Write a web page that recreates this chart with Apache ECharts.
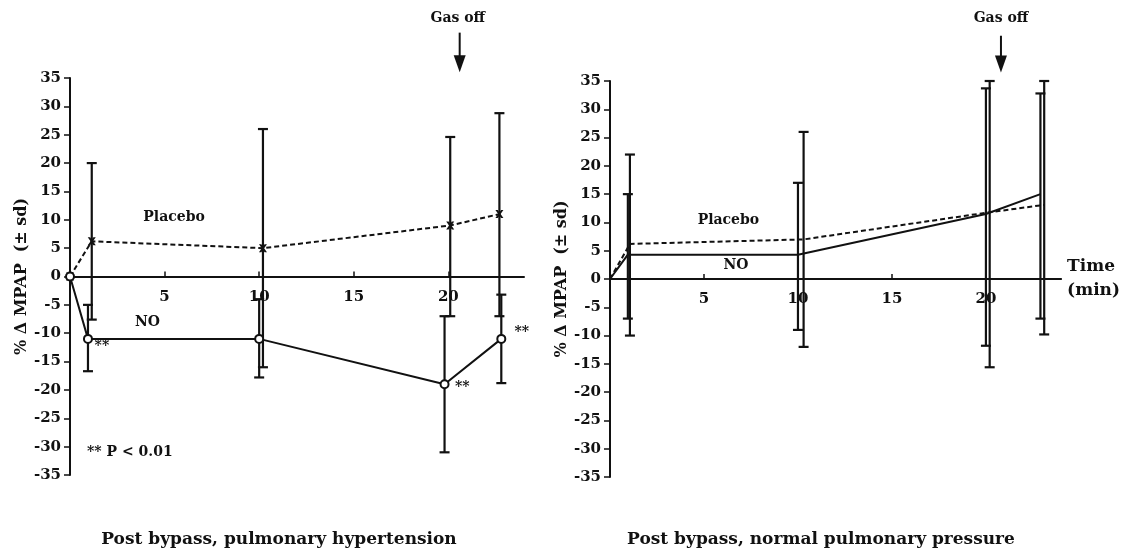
<!DOCTYPE html>
<html>
<head>
<meta charset="utf-8">
<script src="https://cdn.jsdelivr.net/npm/echarts@6/dist/echarts.min.js"></script>
<style>
html,body{margin:0;padding:0;background:#fff;}
#c{width:1123px;height:554px;}
</style>
</head>
<body>
<div id="c"></div>
<script>
// ---------- Data ----------
// Left panel: post bypass, pulmonary hypertension
var leftPlaceboTime = [0, 1.15, 10.2, 20.1, 22.7];
var leftPlaceboVal  = [0, 6.2, 5, 9, 11];
var leftPlaceboLow  = [null, -7.6, -16, -7, -7];
var leftPlaceboHigh = [null, 20, 26, 24.6, 28.8];

var leftNoTime = [0, 0.95, 10.0, 19.8, 22.8];
var leftNoVal  = [0, -11, -11, -19, -11];
var leftNoLow  = [null, -16.7, -17.8, -31, -18.8];
var leftNoHigh = [null, -5, -4, -7, -3.2];

// Right panel: post bypass, normal pulmonary pressure
var rightPlaceboTime = [0, 1.06, 10.3, 20.2, 23.1];
var rightPlaceboVal  = [0, 6.2, 7, 11.8, 13.1];
var rightPlaceboLow  = [null, -10, -12, -15.6, -9.8];
var rightPlaceboHigh = [null, 22, 26, 35, 35];

var rightNoTime = [0, 0.95, 10.0, 20.0, 22.9];
var rightNoVal  = [0, 4.3, 4.3, 11.5, 15];
var rightNoLow  = [null, -7, -9, -11.8, -7];
var rightNoHigh = [null, 15, 17, 33.7, 32.8];

var yTicks = [-35, -30, -25, -20, -15, -10, -5, 0, 5, 10, 15, 20, 25, 30, 35];
var xTicks = [5, 10, 15, 20];

var panelTitles = ['Post bypass, pulmonary hypertension', 'Post bypass, normal pulmonary pressure'];
var yName = '% \u0394 MPAP  (\u00b1 sd)';

// annotations: [gridIndex, x, y, text, align]
var annotations = [
  [0, 5.5, 10.4, 'Placebo', 'center'],
  [0, 4.1, -8.1, 'NO', 'center'],
  [0, 1.3, -12.3, '**', 'left'],
  [0, 20.35, -19.6, '**', 'left'],
  [0, 23.5, -9.8, '**', 'left'],
  [0, 0.9, -31, '** P < 0.01', 'left'],
  [0, 20.5, 45.5, 'Gas off', 'center'],
  [1, 6.3, 10.3, 'Placebo', 'center'],
  [1, 6.7, 2.4, 'NO', 'center']
];
annotations.push([1, 20.8, 46, 'Gas off', 'center']);
// arrows: [gridIndex, x, yTop, yBottom]
var arrows = [[0, 20.6, 43, 36], [1, 20.8, 43, 36.5]];

// ---------- Chart ----------
var FONT = '"DejaVu Serif", "Liberation Serif", serif';
var chart = echarts.init(document.getElementById('c'), null, {renderer: 'canvas'});

function pairs(t, v) { return t.map(function (x, i) { return [x, v[i]]; }); }
function errData(t, lo, hi) {
  var out = [];
  for (var i = 0; i < t.length; i++) if (lo[i] !== null) out.push([t[i], lo[i], hi[i]]);
  return out;
}
function errSeries(gi, data) {
  return {
    type: 'custom', xAxisIndex: gi, yAxisIndex: gi, data: data, z: 3,
    renderItem: function (params, api) {
      var x = api.value(0);
      var lo = api.coord([x, api.value(1)]);
      var hi = api.coord([x, api.value(2)]);
      var w = 5;
      var st = {stroke: '#111', lineWidth: 2.2};
      return {type: 'group', children: [
        {type: 'line', shape: {x1: lo[0], y1: lo[1], x2: hi[0], y2: hi[1]}, style: st},
        {type: 'line', shape: {x1: lo[0] - w, y1: lo[1], x2: lo[0] + w, y2: lo[1]}, style: st},
        {type: 'line', shape: {x1: hi[0] - w, y1: hi[1], x2: hi[0] + w, y2: hi[1]}, style: st}
      ]};
    },
    encode: {x: 0, y: [1, 2]}
  };
}

var xMark = 'path://M0,0 L3,0 L5,3 L7,0 L10,0 L6.5,5 L10,10 L7,10 L5,7 L3,10 L0,10 L3.5,5 Z';

function xAxisCfg(gi, withName, off) {
  return {
    type: 'value', gridIndex: gi, min: 0, max: 24, interval: 5,
    position: 'bottom', offset: off,
    axisLine: {onZero: false, lineStyle: {color: '#111', width: 2}},
    axisTick: {inside: true, length: 5, lineStyle: {color: '#111', width: 1.5},
               customValues: xTicks},
    axisLabel: {customValues: xTicks, color: '#111', fontFamily: FONT, fontWeight: 'bold', fontSize: 15, margin: 13},
    splitLine: {show: false},
    name: withName ? 'Time\n(min)' : '',
    nameLocation: 'end', nameGap: 6,
    nameTextStyle: {color: '#111', fontFamily: FONT, fontWeight: 'bold', fontSize: 17, lineHeight: 24, align: 'left'}
  };
}
function yAxisCfg(gi) {
  return {
    type: 'value', gridIndex: gi, min: -35, max: 35, interval: 5,
    axisLine: {onZero: false, lineStyle: {color: '#111', width: 2}},
    axisTick: {length: 6, lineStyle: {color: '#111', width: 1.5}, customValues: yTicks},
    axisLabel: {customValues: yTicks, color: '#111', fontFamily: FONT, fontWeight: 'bold', fontSize: 15, margin: 9},
    splitLine: {show: false},
    name: yName, nameLocation: 'middle', nameGap: 40, nameRotate: 90,
    nameTextStyle: {color: '#111', fontFamily: FONT, fontWeight: 'bold', fontSize: 16}
  };
}

var TFS = 17;
var option = {
  backgroundColor: '#fff',
  animation: false,
  title: [
    {text: panelTitles[0], left: 274, top: 526, textAlign: 'center',
     textStyle: {fontFamily: FONT, fontWeight: 'bold', fontSize: TFS, color: '#111'}},
    {text: panelTitles[1], left: 816, top: 526, textAlign: 'center',
     textStyle: {fontFamily: FONT, fontWeight: 'bold', fontSize: TFS, color: '#111'}}
  ],
  grid: [
    {left: 70, top: 78, width: 454, height: 397},
    {left: 610, top: 81, width: 453, height: 396}
  ],
  xAxis: [xAxisCfg(0, false, -198.5), xAxisCfg(1, true, -198)],
  yAxis: [yAxisCfg(0), yAxisCfg(1)],
  series: [
    errSeries(0, errData(leftPlaceboTime, leftPlaceboLow, leftPlaceboHigh)),
    errSeries(0, errData(leftNoTime, leftNoLow, leftNoHigh)),
    errSeries(1, errData(rightPlaceboTime, rightPlaceboLow, rightPlaceboHigh)),
    errSeries(1, errData(rightNoTime, rightNoLow, rightNoHigh)),
    {type: 'line', name: 'Placebo', xAxisIndex: 0, yAxisIndex: 0, data: pairs(leftPlaceboTime, leftPlaceboVal),
     lineStyle: {color: '#111', width: 2, type: [5, 3]}, symbol: xMark, symbolSize: 8,
     itemStyle: {color: '#111'}, z: 4},
    {type: 'line', name: 'NO', xAxisIndex: 0, yAxisIndex: 0, data: pairs(leftNoTime, leftNoVal),
     lineStyle: {color: '#111', width: 2}, symbol: 'circle', symbolSize: 8,
     itemStyle: {color: '#fff', borderColor: '#111', borderWidth: 2}, z: 5},
    {type: 'line', name: 'Placebo', xAxisIndex: 1, yAxisIndex: 1, data: pairs(rightPlaceboTime, rightPlaceboVal),
     lineStyle: {color: '#111', width: 2, type: [5, 3]}, symbol: 'none', z: 4},
    {type: 'line', name: 'NO', xAxisIndex: 1, yAxisIndex: 1, data: pairs(rightNoTime, rightNoVal),
     lineStyle: {color: '#111', width: 2}, symbol: 'none', z: 5}
  ]
};
chart.setOption(option);

// annotation graphics anchored to data coordinates
var g = [];
annotations.forEach(function (a) {
  var p = chart.convertToPixel({gridIndex: a[0]}, [a[1], a[2]]);
  g.push({type: 'text', x: p[0], y: p[1], z: 10,
    style: {text: a[3], fill: '#111', font: 'bold 14px ' + FONT, textAlign: a[4], textVerticalAlign: 'middle'}});
});
arrows.forEach(function (a) {
  var top = chart.convertToPixel({gridIndex: a[0]}, [a[1], a[2]]);
  var bot = chart.convertToPixel({gridIndex: a[0]}, [a[1], a[3]]);
  var headH = 17;
  g.push({type: 'line', z: 10, shape: {x1: top[0], y1: top[1], x2: bot[0], y2: bot[1] - headH + 2},
    style: {stroke: '#111', lineWidth: 2}});
  g.push({type: 'polygon', z: 10, shape: {points: [[bot[0] - 6, bot[1] - headH], [bot[0] + 6, bot[1] - headH], [bot[0], bot[1]]]},
    style: {fill: '#111'}});
});
chart.setOption({graphic: g});
</script>
</body>
</html>
